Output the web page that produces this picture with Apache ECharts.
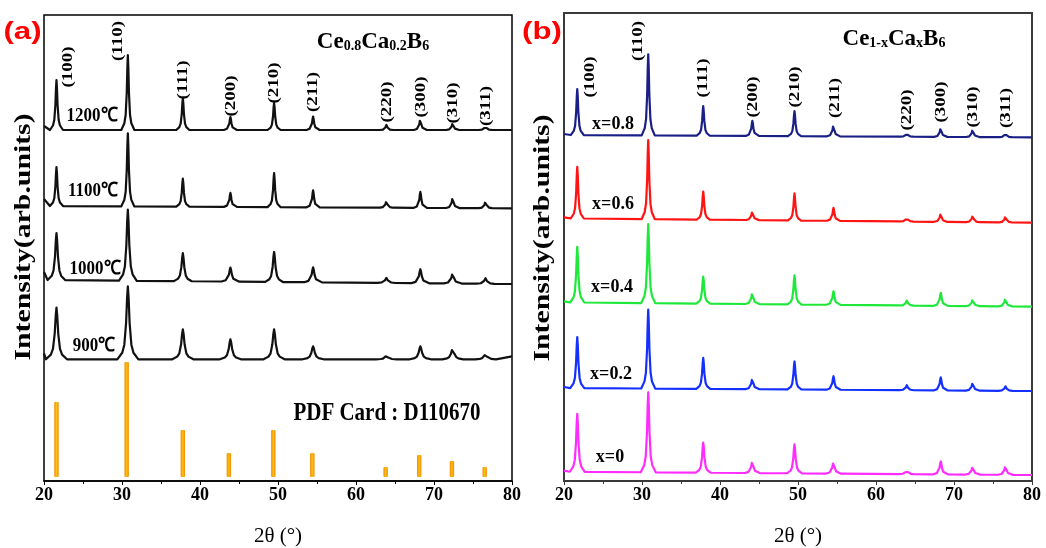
<!DOCTYPE html>
<html><head><meta charset="utf-8">
<script src="https://cdn.jsdelivr.net/npm/echarts@6.0.0/dist/echarts.min.js"></script>
<style>html,body{margin:0;padding:0;background:#fff}#c{width:1046px;height:548px}</style>
</head><body><div id="c"></div>
<script>
// ---------------- data ----------------
const xTicks = [20, 30, 40, 50, 60, 70, 80];
const hklLabels = ['(100)','(110)','(111)','(200)','(210)','(211)','(220)','(300)','(310)','(311)'];

// panel (a): Ce0.8Ca0.2B6 at different temperatures
const tempNames = ['1200℃','1100℃','1000℃','900℃'];
const peaksA = [21.6, 30.75, 37.8, 43.9, 49.5, 54.5, 63.9, 68.25, 72.4, 76.6];
const h1200 = [50, 75, 32, 13, 27, 13.5, 5, 11, 7, 4];
const h1100 = [39, 73, 28, 14, 34, 17, 6.5, 16, 10.5, 6.5];
const h1000 = [47, 71, 28, 14, 30, 15, 5, 14, 10.5, 5.5];
const h900  = [51.6, 73, 30, 20, 30, 13, 3.5, 13, 11, 5];
const base1200 = [351, 351];
const base1100 = [275, 272.7];
const base1000 = [201, 197];
const base900  = [121.7, 121.7];

// PDF card D110670 reference sticks
const pdfPos = [21.6, 30.6, 37.8, 43.7, 49.4, 54.4, 63.8, 68.1, 72.3, 76.5];
const pdfTop = [79, 119, 51, 28, 51, 28, 14, 26, 20, 14];
const pdfBase = 4;

// panel (b): Ce1-xCaxB6
const compNames = ['x=0.8','x=0.6','x=0.4','x=0.2','x=0'];
const peaksB = [21.7, 30.8, 37.85, 44.15, 49.55, 54.55, 63.95, 68.3, 72.4, 76.6];
const h08 = [46, 81, 29.5, 15, 25, 11.5, 3.5, 9, 7.5, 4];
const h06 = [51.6, 79, 28, 9, 27, 13, 4, 8.5, 6.5, 6];
const h04 = [55.6, 79, 27, 11.6, 29, 13.5, 5, 13, 7, 8];
const h02 = [51, 79, 31, 11, 28, 13.5, 5, 13, 8, 4.5];
const h00 = [58, 80, 30, 12, 29, 12, 4, 13, 8, 9];
const base08 = [346, 343.7];
const base06 = [262.7, 258.3];
const base04 = [178.7, 174.3];
const base02 = [93, 90];
const base00 = [9.3, 6];

// ---------------- peak shape (style) ----------------
const kernelOff  = [-3, -1.6, -1, -0.5, -0.22, 0, 0.22, 0.5, 1, 1.6, 3];
const kernelFrac = [0, 0.09, 0.2, 0.5, 0.84, 1, 0.84, 0.5, 0.2, 0.09, 0];
function buildCurve(pos, hts, base, w, startLift, endLift) {
  const bl = x => base[0] + (base[1] - base[0]) * (x - 20) / 60;
  const pts = [[20, bl(20) + startLift]];
  let last = 20;
  pos.forEach((p, i) => {
    kernelOff.forEach((o, k) => {
      const x = p + o * w;
      if (x <= last + 0.01 || x >= 80) return;
      pts.push([x, bl(x) + hts[i] * kernelFrac[k]]);
      last = x;
    });
  });
  pts.push([80, bl(80) + endLift]);
  return pts;
}

const serif = '"Liberation Serif", "Times New Roman", serif';
const chart = echarts.init(document.getElementById('c'), null, {renderer: 'canvas'});

function lineSeries(name, data, color, xi) {
  return {
    name, type: 'line', xAxisIndex: xi, yAxisIndex: xi, data,
    showSymbol: false, smooth: false, silent: true,
    lineStyle: {color, width: 2.2, join: 'round'}, z: 3
  };
}

function xAxisCfg(gi, lineColor) {
  return {
    gridIndex: gi, type: 'value', min: 20, max: 80, interval: 10,
    name: '2θ (°)', nameLocation: 'middle', nameGap: 45,
    nameTextStyle: {fontFamily: serif, fontSize: 21, color: '#000'},
    axisLine: {show: true, lineStyle: {color: lineColor, width: 1.5}},
    axisTick: {show: true, inside: false, length: 4, lineStyle: {color: lineColor}},
    minorTick: {show: true, splitNumber: 2, length: 3, lineStyle: {color: lineColor}},
    axisLabel: {fontFamily: serif, fontWeight: 'bold', fontSize: 18, color: '#000', margin: 5,
      formatter: v => xTicks.includes(v) ? String(v) : ''},
    splitLine: {show: false}
  };
}
function yAxisCfg(gi, max) {
  return {
    gridIndex: gi, type: 'value', min: 0, max: max,
    axisLine: {show: false}, axisTick: {show: false}, axisLabel: {show: false}, splitLine: {show: false}
  };
}

const hklPosA = [[68,67],[118,41],[183,80],[231,96],[274,83],[313,92],[387,102],[421,97],[453,103],[486,106]];
const hklPosB = [[590,77],[638,41],[703,78],[753,97],[795,87],[835,98],[907,110],[941,102],[973,107],[1006,108]];
const tempPos = [[92,116],[93,191],[95,269],[94,346]];
const compPos = [[613,124],[613,204],[612,287],[611,374],[610,457]];

const graphics = [];
function txt(text, x, y, font, opts) {
  graphics.push(Object.assign({
    type: 'text', x, y, silent: true, z: 10,
    style: Object.assign({text, font, fill: '#000', align: 'center', verticalAlign: 'middle'}, (opts && opts.style) || {})
  }, (opts && opts.el) || {}));
}
txt('(a)', 22.5, 32, 'bold 24px "Liberation Sans", Arial, sans-serif', {style: {fill: '#ff0000'}, el: {scaleX: 1.3}});
txt('(b)', 542, 32, 'bold 24px "Liberation Sans", Arial, sans-serif', {style: {fill: '#ff0000'}, el: {scaleX: 1.3}});
txt('Intensity(arb.units)', 23.5, 237, 'bold 24px ' + serif, {el: {rotation: Math.PI / 2, scaleX: 1.24}});
txt('Intensity(arb.units)', 543, 238, 'bold 24px ' + serif, {el: {rotation: Math.PI / 2, scaleX: 1.24}});
hklLabels.forEach((t, i) => {
  txt(t, hklPosA[i][0], hklPosA[i][1], 'bold 14px ' + serif, {el: {rotation: Math.PI / 2, scaleX: 1.35}});
  txt(t, hklPosB[i][0], hklPosB[i][1], 'bold 14px ' + serif, {el: {rotation: Math.PI / 2, scaleX: 1.35}});
});
tempNames.forEach((t, i) => txt(t, tempPos[i][0], tempPos[i][1], 'bold 17px ' + serif, {el: {scaleY: 1.15}}));
compNames.forEach((t, i) => txt(t, compPos[i][0], compPos[i][1], 'bold 18px ' + serif));
txt('PDF Card : D110670', 387, 414, 'bold 21px ' + serif, {el: {scaleY: 1.15}});

const richTitle = {
  n: {fontFamily: serif, fontWeight: 'bold', fontSize: 23, lineHeight: 23, padding: [0, 0, 7, 0], verticalAlign: 'top'},
  s: {fontFamily: serif, fontWeight: 'bold', fontSize: 14, lineHeight: 14, verticalAlign: 'bottom'}
};
graphics.push({type: 'text', x: 373, y: 42, silent: true, z: 10,
  style: {text: '{n|Ce}{s|0.8}{n|Ca}{s|0.2}{n|B}{s|6}', rich: richTitle, align: 'center', verticalAlign: 'middle', fill: '#000'}});
graphics.push({type: 'text', x: 894, y: 39, silent: true, z: 10,
  style: {text: '{n|Ce}{s|1-x}{n|Ca}{s|x}{n|B}{s|6}', rich: richTitle, align: 'center', verticalAlign: 'middle', fill: '#000'}});

const stickSeries = {
  name: 'PDF Card : D110670', type: 'custom', xAxisIndex: 0, yAxisIndex: 0, silent: true, z: 2,
  data: pdfPos.map((p, i) => [p, pdfTop[i]]),
  renderItem: (params, api) => {
    const p0 = api.coord([api.value(0), pdfBase]);
    const p1 = api.coord([api.value(0), api.value(1)]);
    return {
      type: 'rect',
      shape: {x: p0[0] - 2.2, y: p1[1], width: 4.4, height: p0[1] - p1[1], r: 1},
      style: {fill: new echarts.graphic.LinearGradient(0, 0, 1, 0, [
        {offset: 0, color: '#f08a00'}, {offset: 0.5, color: '#ffbf10'}, {offset: 1, color: '#f08a00'}])}
    };
  }
};

const option = {
  animation: false,
  backgroundColor: '#fff',
  grid: [
    {left: 44, top: 15, width: 468, height: 466, show: true, borderColor: '#000', borderWidth: 1.5,
      backgroundColor: 'transparent', containLabel: false, outerBoundsMode: 'none'},
    {left: 564, top: 13, width: 468, height: 468, show: true, borderColor: '#3a3a3a', borderWidth: 2,
      backgroundColor: 'transparent', containLabel: false, outerBoundsMode: 'none'}
  ],
  xAxis: [xAxisCfg(0, '#000'), xAxisCfg(1, '#3a3a3a')],
  yAxis: [yAxisCfg(0, 466), yAxisCfg(1, 468)],
  series: [
    lineSeries(tempNames[0], buildCurve(peaksA, h1200, base1200, 0.28, 4, 0), '#111', 0),
    lineSeries(tempNames[1], buildCurve(peaksA, h1100, base1100, 0.28, 7, 0), '#111', 0),
    lineSeries(tempNames[2], buildCurve(peaksA, h1000, base1000, 0.38, 8, 0), '#111', 0),
    lineSeries(tempNames[3], buildCurve(peaksA, h900, base900, 0.45, 6, 3), '#111', 0),
    stickSeries,
    lineSeries(compNames[0], buildCurve(peaksB, h08, base08, 0.28, 1, 0), '#1a1f86', 1),
    lineSeries(compNames[1], buildCurve(peaksB, h06, base06, 0.28, 1, 0), '#ff1414', 1),
    lineSeries(compNames[2], buildCurve(peaksB, h04, base04, 0.3, 1, 0), '#1ee83a', 1),
    lineSeries(compNames[3], buildCurve(peaksB, h02, base02, 0.3, 1, 0), '#1430ff', 1),
    lineSeries(compNames[4], buildCurve(peaksB, h00, base00, 0.32, 1, 0), '#ff2cff', 1)
  ],
  graphic: graphics
};
chart.setOption(option);
</script></body></html>
